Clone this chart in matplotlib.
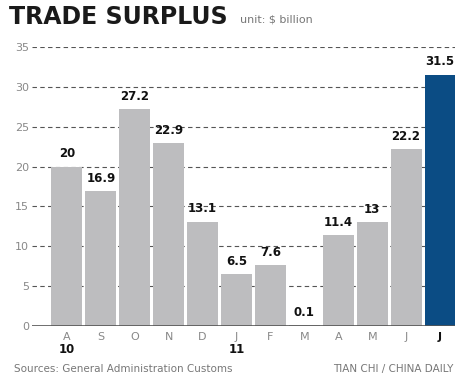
import matplotlib
matplotlib.use("Agg")
import matplotlib.pyplot as plt
import numpy as np

months = ["A", "S", "O", "N", "D", "J", "F", "M", "A", "M", "J", "J"]
surplus = [20, 16.9, 27.2, 22.9, 13.1, 6.5, 7.6, 0.1, 11.4, 13, 22.2, 31.5]
value_labels = ["20", "16.9", "27.2", "22.9", "13.1", "6.5", "7.6", "0.1", "11.4", "13", "22.2", "31.5"]
years = {0: "10", 5: "11"}
yticks = [0, 5, 10, 15, 20, 25, 30, 35]

plt.rcParams['font.family'] = ['DejaVu Sans']

fig = plt.figure(figsize=(4.7, 3.81), dpi=100)
ax = fig.add_axes([0.068, 0.1444, 0.9, 0.7325])

x = np.arange(len(months))
colors = ['#bdbdbf'] * (len(months) - 1) + ['#0b4c84']
ax.bar(x, surplus, width=0.91, color=colors, zorder=2)

ax.set_xlim(-1.03, 11.44)
ax.set_ylim(0, 35)
ax.set_yticks(yticks)
ax.set_yticklabels([str(t) for t in yticks], color='#888888', fontsize=8)
ax.tick_params(axis='y', length=0, pad=2)
ax.set_xticks([])
for t in yticks[1:]:
    ax.axhline(t, color='#555555', lw=0.8, ls=(0, (4, 3)), zorder=1)
ax.axhline(0, color='#555555', lw=1.2, zorder=3)

for s in ax.spines.values():
    s.set_visible(False)

for i, (v, lab) in enumerate(zip(surplus, value_labels)):
    ax.text(i, v + 0.8, lab, ha='center', va='bottom', fontsize=8.5,
            fontweight='bold', color='#111111', clip_on=False)

for i, m in enumerate(months):
    bold = i == len(months) - 1
    ax.text(i, -1.4, m, ha='center', va='center', fontsize=8,
            fontweight='bold' if bold else 'normal',
            color='#111111' if bold else '#888888', clip_on=False)
for i, y in years.items():
    ax.text(i, -3.0, y, ha='center', va='center', fontsize=8.5,
            fontweight='bold', color='#111111', clip_on=False)

fig.text(0.02, 0.955, "TRADE SURPLUS", fontsize=17, fontweight='bold',
         color='#1a1a1a', va='center', ha='left')
fig.text(0.51, 0.95, "unit: $ billion", fontsize=8, color='#777777',
         va='center', ha='left')

fig.text(0.03, 0.032, "Sources: General Administration Customs", fontsize=7.5,
         color='#777777', va='center', ha='left')
fig.text(0.965, 0.032, "TIAN CHI / CHINA DAILY", fontsize=7.5,
         color='#777777', va='center', ha='right')

fig.savefig("out.png", dpi=100, facecolor='white')
